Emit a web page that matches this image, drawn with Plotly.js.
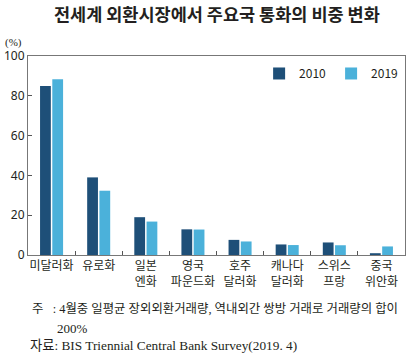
<!DOCTYPE html>
<html>
<head>
<meta charset="utf-8">
<script src="https://cdn.plot.ly/plotly-3.0.1.min.js"></script>
<style>html,body{margin:0;padding:0;background:#fff;}#chart{width:418px;height:359px;}</style>
</head>
<body>
<div id="chart"></div>
<script>
var categories = ["미달러화", "유로화", "일본<br>엔화", "영국<br>파운드화", "호주<br>달러화", "캐나다<br>달러화", "스위스<br>프랑", "중국<br>위안화"];
var values2010 = [84.9, 39.0, 19.0, 12.9, 7.6, 5.3, 6.3, 0.9];
var values2019 = [88.3, 32.3, 16.8, 12.8, 6.8, 5.0, 4.9, 4.3];
var seriesNames = ["2010", "2019"];
var yTicks = [0, 20, 40, 60, 80, 100];

var fontKR = "'Noto Sans CJK KR', 'Noto Sans', sans-serif";
var fontSerif = "'Liberation Serif', 'Noto Sans CJK KR', serif";

var traces = [
  {type: "bar", name: seriesNames[0], x: categories, y: values2010,
   marker: {color: "#1e4f78", line: {width: 0}}},
  {type: "bar", name: seriesNames[1], x: categories, y: values2019,
   marker: {color: "#4bb1da", line: {width: 0}}}
];

var layout = {
  width: 418, height: 359,
  margin: {l: 28, r: 13, t: 56, b: 104},
  paper_bgcolor: "#fff", plot_bgcolor: "#fff",
  font: {family: fontKR, size: 12, color: "#231f20"},
  barmode: "group", bargap: 0.48, bargroupgap: 0.12,
  showlegend: true,
  legend: {orientation: "h", x: 0.995, xanchor: "right", y: 0.985, yanchor: "top",
           font: {family: fontKR, size: 12, color: "#231f20"}, bgcolor: "rgba(0,0,0,0)",
           itemwidth: 30, traceorder: "normal"},
  xaxis: {type: "category", showline: true, linecolor: "#777", linewidth: 1, mirror: true,
          ticks: "inside", tickson: "boundaries", ticklen: 4, tickcolor: "#555",
          showgrid: false, zeroline: false, tickangle: 0,
          tickfont: {family: fontKR, size: 12, color: "#231f20"}},
  yaxis: {range: [0, 100], tickvals: yTicks, showline: true, linecolor: "#777", linewidth: 1, mirror: true,
          ticks: "inside", ticklen: 4, tickcolor: "#555", showgrid: false, zeroline: false,
          tickfont: {family: "'Noto Sans', sans-serif", size: 12, color: "#231f20"}},
  annotations: [
    {text: "<b>전세계 외환시장에서 주요국 통화의 비중 변화</b>", xref: "paper", yref: "paper",
     x: 0.5, y: 1, yshift: 43, xanchor: "center", yanchor: "middle", showarrow: false,
     font: {family: fontKR, size: 17.5, color: "#231f20"}},
    {text: "(%)", xref: "paper", yref: "paper", x: 0, y: 1, xshift: -25, yshift: 14,
     xanchor: "left", yanchor: "middle", showarrow: false,
     font: {family: fontSerif, size: 11, color: "#231f20"}},
    {text: "주   : 4월중 일평균 장외외환거래량, 역내외간 쌍방 거래로 거래량의 합이", xref: "paper", yref: "paper",
     x: 0, y: 0, xshift: 2, yshift: -54, xanchor: "left", yanchor: "middle", showarrow: false,
     font: {family: fontSerif, size: 12.4, color: "#231f20"}},
    {text: "200%", xref: "paper", yref: "paper",
     x: 0, y: 0, xshift: 27, yshift: -73, xanchor: "left", yanchor: "middle", showarrow: false,
     font: {family: fontSerif, size: 13, color: "#231f20"}},
    {text: "자료: BIS Triennial Central Bank Survey(2019. 4)", xref: "paper", yref: "paper",
     x: 0, y: 0, xshift: 0, yshift: -90, xanchor: "left", yanchor: "middle", showarrow: false,
     font: {family: fontSerif, size: 13.3, color: "#231f20"}}
  ]
};

Plotly.newPlot("chart", traces, layout, {displayModeBar: false, staticPlot: true});
</script>
</body>
</html>
